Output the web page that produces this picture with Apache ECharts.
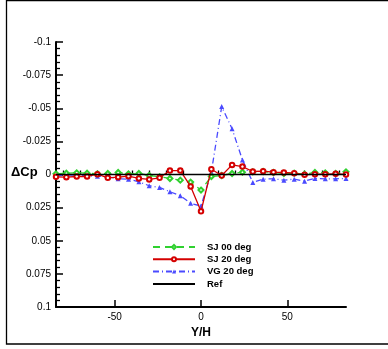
<!DOCTYPE html>
<html>
<head>
<meta charset="utf-8">
<script src="https://cdn.jsdelivr.net/npm/echarts@6/dist/echarts.min.js"></script>
<style>
  html, body { margin: 0; padding: 0; background: #fff; }
  #chart { width: 388px; height: 349px; }
</style>
</head>
<body>
<div id="chart"></div>
<script>
// Y/H stations
const yh = [-84, -78, -72, -66, -60, -54, -48, -42, -36, -30, -24, -18, -12, -6, 0,
  6, 12, 18, 24, 30, 36, 42, 48, 54, 60, 66, 72, 78, 84]

// delta Cp per configuration
const sj00 = [-0.0005, -0.001, -0.00125, -0.001, -0.0005, -0.00075, -0.0015, -0.0005, -0.00075, 0.00075,
  0.00175, 0.003, 0.00425, 0.00575, 0.01175,
  0.0015, 0.00075, -0.00075, -0.00175, -0.002, -0.00225, -0.0015, -0.00075, -0.001, -0.00025,
  -0.0015, -0.00125, -0.00075, -0.002]
const sj20 = [0.00175, 0.002, 0.0015, 0.0015, -0.00025, 0.0025, 0.002, 0.00125, 0.003, 0.00375,
  0.0025, -0.003, -0.003, 0.009, 0.02775,
  -0.004, 0.00075, -0.00725, -0.006, -0.00225, -0.0025, -0.00175, -0.0015, -0.001, 0.00025,
  -0.00025, -0.00025, -0.0005, 0]
const vg20 = [0.001, 0.0005, 0.0005, 0.001, 0.00125, 0.00175, 0.00325, 0.0035, 0.0055, 0.0085,
  0.00975, 0.013, 0.016, 0.02175, 0.02375,
  -0.00175, -0.05125, -0.0345, -0.011, 0.006, 0.0035, 0.00325, 0.00425, 0.0035, 0.005,
  0.003, 0.00325, 0.00325, 0.003]
const refLine = [[-84, 0], [84, 0]]

// axis ticks
const xLabelTicks = [-50, 0, 50]
const xMinorTicks = [-80, -70, -60, -40, -30, -20, -10, 10, 20, 30, 40, 60, 70, 80]

const font = 'Liberation Sans, Arial, sans-serif'
const pair = arr => yh.map((x, i) => [x, arr[i]])

const chart = echarts.init(document.getElementById('chart'), null, { renderer: 'canvas' })

chart.setOption({
  backgroundColor: '#fff',
  animation: false,
  grid: { left: 56, right: 42, top: 42, bottom: 42, outerBoundsMode: 'none', containLabel: false },
  graphic: [
    {
      type: 'rect',
      shape: { x: 6.5, y: 0.5, width: 400, height: 343.5 },
      style: { fill: 'none', stroke: '#000', lineWidth: 1.3 }
    },
    {
      type: 'text',
      left: 11,
      top: 166,
      style: { text: 'ΔCp', fontFamily: font, fontWeight: 'bold', fontSize: 13, fill: '#000' }
    }
  ],
  legend: {
    orient: 'vertical',
    left: 152,
    top: 242,
    padding: 0,
    itemWidth: 42,
    itemHeight: 5,
    itemGap: 2.3,
    data: ['SJ 00 deg', 'SJ 20 deg', 'VG 20 deg', { name: 'Ref', itemStyle: { opacity: 0 } }],
    textStyle: { fontFamily: font, fontWeight: 'bold', fontSize: 9.5, color: '#000', padding: [0, 0, 0, 7] }
  },
  xAxis: [
    {
      type: 'value',
      position: 'bottom',
      min: -84,
      max: 84,
      name: 'Y/H',
      nameLocation: 'middle',
      nameGap: 15,
      nameTextStyle: { fontFamily: font, fontWeight: 'bold', fontSize: 12, color: '#000' },
      splitLine: { show: false },
      axisLine: { show: true, onZero: false, lineStyle: { color: '#000', width: 2 } },
      axisTick: { show: true, inside: true, length: 7, customValues: xLabelTicks, lineStyle: { color: '#000', width: 1.5 } },
      axisLabel: { customValues: xLabelTicks, margin: 5, fontFamily: font, fontSize: 10, color: '#000' }
    },
    {
      type: 'value',
      position: 'bottom',
      min: -84,
      max: 84,
      splitLine: { show: false },
      axisLine: { show: false },
      axisTick: { show: true, inside: true, length: 4, customValues: xMinorTicks, lineStyle: { color: '#000', width: 1.3 } },
      axisLabel: { show: false }
    }
  ],
  yAxis: {
    type: 'value',
    inverse: true,
    min: -0.1,
    max: 0.1,
    interval: 0.025,
    splitLine: { show: false },
    axisLine: { show: true, onZero: false, lineStyle: { color: '#000', width: 2 } },
    axisTick: { show: true, inside: true, length: 7, lineStyle: { color: '#000', width: 1.5 } },
    minorTick: { show: true, splitNumber: 5, length: 4, lineStyle: { color: '#000', width: 1.3 } },
    axisLabel: { margin: 5, fontFamily: font, fontSize: 10, color: '#000' }
  },
  series: [
    {
      name: 'SJ 00 deg',
      type: 'line',
      data: pair(sj00),
      symbol: 'emptyDiamond',
      symbolSize: 5,
      showAllSymbol: true,
      itemStyle: { color: '#2fd12f', borderWidth: 1 },
      lineStyle: { color: '#2fd12f', width: 1.3, type: [7, 5] },
      z: 3
    },
    {
      name: 'SJ 20 deg',
      type: 'line',
      data: pair(sj20),
      symbol: 'emptyCircle',
      symbolSize: 4.5,
      showAllSymbol: true,
      itemStyle: { color: '#d40000', borderWidth: 1 },
      lineStyle: { color: '#d40000', width: 1.3 },
      z: 4
    },
    {
      name: 'VG 20 deg',
      type: 'line',
      data: pair(vg20),
      symbol: 'triangle',
      symbolSize: 5,
      showAllSymbol: true,
      itemStyle: { color: '#4a4aff' },
      lineStyle: { color: '#4a4aff', width: 1.3, type: [6, 3, 1, 3] },
      z: 2
    },
    {
      name: 'Ref',
      type: 'line',
      data: refLine,
      symbol: 'none',
      itemStyle: { color: '#000' },
      lineStyle: { color: '#000', width: 1.3 },
      z: 5
    }
  ]
})
</script>
</body>
</html>
